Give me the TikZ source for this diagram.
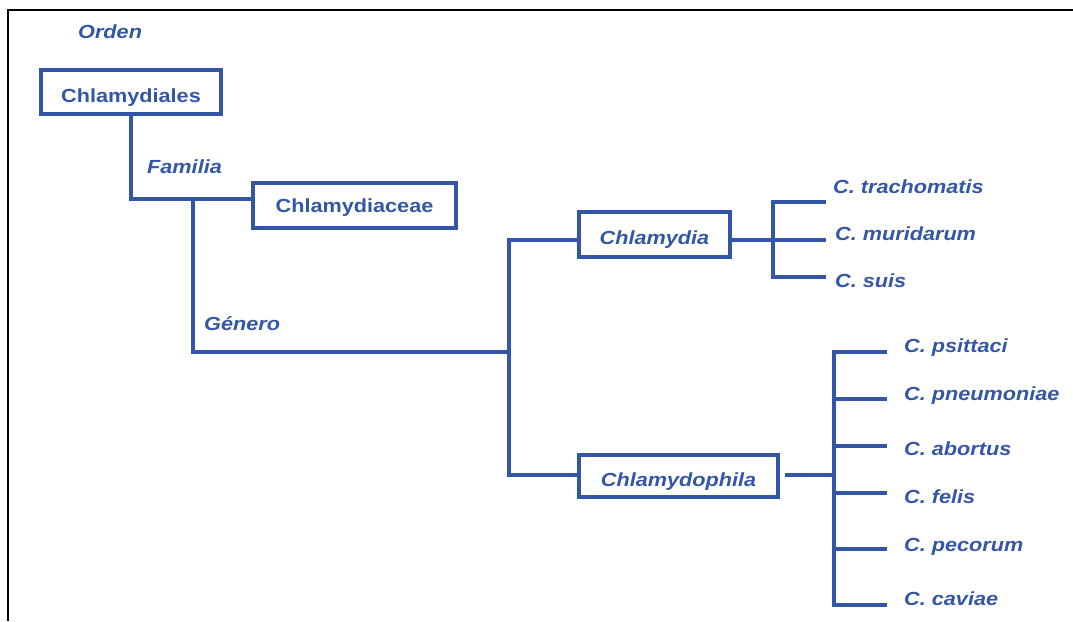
\documentclass[tikz,border=0pt]{standalone}
\usepackage{fontspec}
\newfontfamily\labfont[FakeStretch=1.14]{Liberation Sans}
\definecolor{tblue}{RGB}{52,86,166}
\tikzset{
  box/.style={draw=tblue, line width=3.2pt, inner sep=0pt, text=tblue,
    text height=20pt, text depth=0pt,
    font=\labfont\bfseries\fontsize{19}{21}\selectfont},
  ibox/.style={box, font=\labfont\bfseries\itshape\fontsize{19}{21}\selectfont},
  lab/.style={inner sep=0pt, anchor=west, text=tblue,
    font=\labfont\bfseries\itshape\fontsize{19}{21}\selectfont},
  conn/.style={draw=tblue, line width=3.2pt},
}
\begin{document}
\begin{tikzpicture}[x=1pt,y=-1pt]
\useasboundingbox (0,0) rectangle (1073,621);
\draw[line width=2.6pt] (8,621) -- (8,10) -- (1073,10);

% rank labels
\node[lab] (orden) at (78,32) {Orden};
\node[lab] (familia) at (147,167) {Familia};
\node[lab] (genero) at (204,324) {Género};

% boxes
\node[box, minimum width=180pt, minimum height=44pt] (ord) at (131,92) {Chlamydiales};
\node[box, minimum width=203pt, minimum height=45pt, text height=13pt] (fam) at (354.5,205.5) {Chlamydiaceae};
\node[ibox, minimum width=151pt, minimum height=45pt, text height=19pt] (gen1) at (654.5,234.5) {Chlamydia};
\node[ibox, minimum width=199pt, minimum height=42pt] (gen2) at (678.5,476) {Chlamydophila};

% junctions
\coordinate (j1) at (193,199);
\coordinate (j2) at (509,352);
\coordinate (k1) at (773,240);
\coordinate (k2) at (834,475);

\draw[conn] (ord.south) |- (fam.west |- j1);
\draw[conn] (j1) |- (j2);
\draw[conn] (gen1.west |- k1) -| (j2) |- (gen2.west |- k2);
\draw[conn] (gen1.east |- k1) -- (k1);
\draw[conn, shorten <=5pt] (gen2.east |- k2) -- (k2);

% Chlamydia species
\coordinate (b1) at (826,202);
\coordinate (b2) at (826,240);
\coordinate (b3) at (826,277);
\draw[conn] (b1) -| (k1) |- (b3);
\draw[conn] (k1) -- (b2);
\node[lab] (s1) at (833,187) {C. trachomatis};
\node[lab] (s2) at (835,234) {C. muridarum};
\node[lab] (s3) at (835,281) {C. suis};

% Chlamydophila species
\coordinate (c1) at (887,352);
\coordinate (c2) at (887,399);
\coordinate (c3) at (887,446);
\coordinate (c4) at (887,493);
\coordinate (c5) at (887,549);
\coordinate (c6) at (887,605);
\draw[conn] (c1) -| (k2) |- (c6);
\draw[conn] (k2 |- c2) -- (c2);
\draw[conn] (k2 |- c3) -- (c3);
\draw[conn] (k2 |- c4) -- (c4);
\draw[conn] (k2 |- c5) -- (c5);
\node[lab] (p1) at (904,348) {C. psittaci};
\node[lab] (p2) at (904,396) {C. pneumoniae};
\node[lab] (p3) at (904,449) {C. abortus};
\node[lab] (p4) at (904,497) {C. felis};
\node[lab] (p5) at (904,547) {C. pecorum};
\node[lab] (p6) at (904,599) {C. caviae};
\end{tikzpicture}
\end{document}
